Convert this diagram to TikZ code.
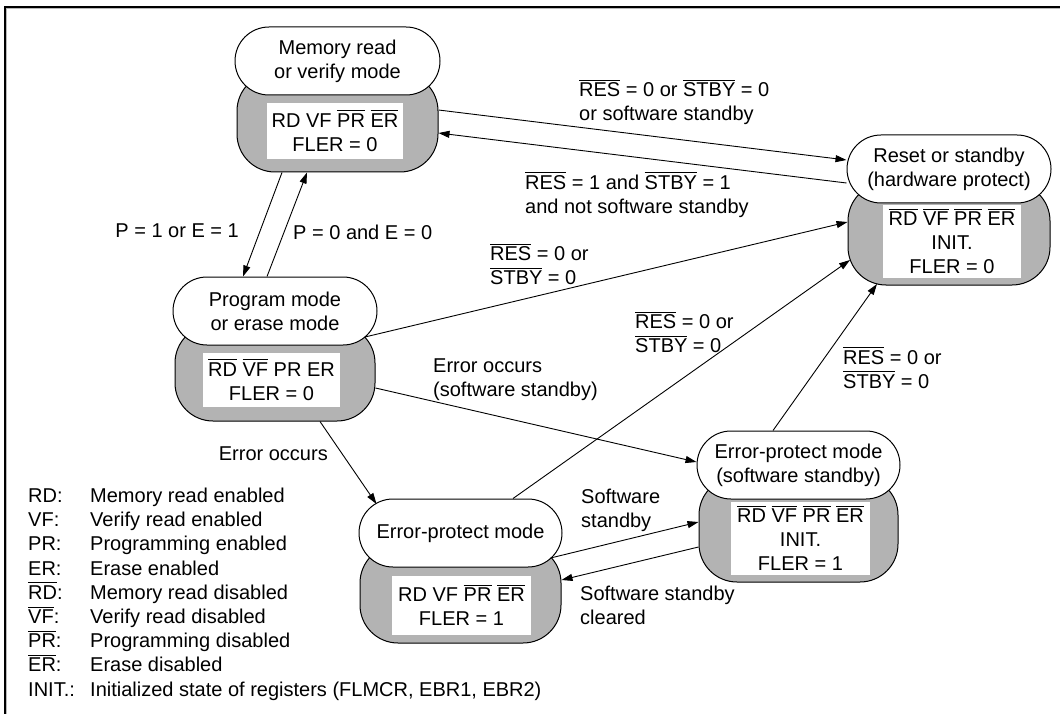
\documentclass[tikz,border=0pt]{standalone}
\usepackage{fontspec}
\setmainfont{Liberation Sans}
\usetikzlibrary{shapes.misc,arrows.meta,calc}
\definecolor{grayfill}{RGB}{179,179,179}
\newcommand\ob[1]{\vbox{\hrule height 0.9pt\kern 2.2pt\hbox{#1}}}
\begin{document}
\begin{tikzpicture}[x=1pt,y=-1pt,
  every node/.style={font=\fontsize{20}{24}\selectfont, inner sep=0pt},
  pill/.style={draw, line width=1pt, fill=white, rounded rectangle, minimum width=#1, minimum height=68pt, align=center},
  graybox/.style 2 args={draw, line width=1pt, fill=grayfill, rounded corners=38pt, minimum width=#1, minimum height=#2},
  inbox/.style 2 args={fill=white, minimum width=#1, minimum height=#2, align=center},
  conn/.style={line width=0.9pt, -{Triangle[length=11pt,width=7pt]}},
  lbl/.style={align=left}]
\useasboundingbox (0,0) rectangle (1060,714);
\fill[white] (0,0) rectangle (1060,714);
% frame
\draw[gray!55, line width=1pt] (6.8,714) -- (6.8,8.8) -- (1060,8.8);
\draw[line width=1.1pt] (5,714) -- (5,7) -- (1060,7);

% Memory read or verify mode
\node[graybox={201pt}{99pt}] (mrG) at (337.5,122.5) {};
\node[inbox={136pt}{56pt}] (mrB) at (335,131) {RD VF \ob{PR} \ob{ER}\\FLER = 0};
\node[pill=205pt] (mrW) at (337.5,61) {Memory read\\or verify mode};

% Reset or standby
\node[graybox={202pt}{102pt}] (rsG) at (949,234) {};
\node[inbox={138pt}{73pt}] (rsB) at (952,241.5) {\ob{RD} \ob{VF} \ob{PR} \ob{ER}\\INIT.\\FLER = 0};
\node[pill=204pt] (rsW) at (949,169) {Reset or standby\\(hardware protect)};

% Program mode or erase mode
\node[graybox={200pt}{96pt}] (pgG) at (275,373) {};
\node[inbox={137pt}{54pt}] (pgB) at (271.5,380) {\ob{RD} \ob{VF} PR ER\\FLER = 0};
\node[pill=204pt] (pgW) at (275,311) {Program mode\\or erase mode};

% Error-protect mode (software standby)
\node[graybox={199pt}{105pt}] (epsG) at (798.5,529.5) {};
\node[inbox={139pt}{73pt}] (epsB) at (800.5,538.5) {\ob{RD} \ob{VF} \ob{PR} \ob{ER}\\INIT.\\FLER = 1};
\node[pill=203pt] (epsW) at (798.5,465) {Error-protect mode\\(software standby)};

% Error-protect mode
\node[graybox={201pt}{98pt}] (epG) at (460.5,594) {};
\node[inbox={139pt}{59pt}] (epB) at (461.5,605.5) {RD VF \ob{PR} \ob{ER}\\FLER = 1};
\node[pill=203pt] (epW) at (460.5,533) {Error-protect mode};

% connectors
\draw[conn] ([yshift=12.5pt]mrG.east) -- ([yshift=9pt]rsW.west);
\draw[conn] ([yshift=-14pt]rsW.west) -- ([yshift=-10.5pt]mrG.east);
\draw[conn] ([xshift=-55.5pt]mrG.south) -- ([xshift=-32pt]pgW.north);
\draw[conn] ([xshift=-8pt]pgW.north) -- ([xshift=-30.5pt]mrG.south);
\draw[conn] ([xshift=90pt,yshift=-26pt]pgW.center) -- ([yshift=12pt]rsG.west);
\draw[conn] ([yshift=-15pt]pgG.east) -- ([yshift=3pt]epsW.west);
\draw[conn] ([xshift=45pt]pgG.south) -- ([xshift=-84pt,yshift=29pt]epW.center);
\draw[conn] ([xshift=52.5pt]epW.north) -- ([xshift=-99pt,yshift=-26pt]rsG.center);
\draw[conn] ([xshift=-25.5pt]epsW.north) -- ([xshift=-72pt,yshift=-50pt]rsG.center);
\draw[conn] ([xshift=90pt,yshift=-25pt]epW.center) -- ([yshift=7.5pt]epsG.west);
\draw[conn] ([yshift=-17.5pt]epsG.west) -- ([yshift=14pt]epG.east);

% labels
\node[lbl, anchor=west] (l1) at (579,102.5) {\ob{RES} = 0 or \ob{STBY} = 0\\or software standby};
\node[lbl, anchor=west] (l2) at (525,195) {\ob{RES} = 1 and \ob{STBY} = 1\\and not software standby};
\node[anchor=base east] (l3) at (239,237) {P = 1 or E = 1};
\node[anchor=base west] (l4) at (293,240) {P = 0 and E = 0};
\node[lbl, anchor=west] (l5) at (490,264.5) {\ob{RES} = 0 or\\\ob{STBY} = 0};
\node[lbl, anchor=west] (l6) at (433,379.5) {Error occurs\\(software standby)};
\node[anchor=base east] (l7) at (328,460) {Error occurs};
\node[lbl, anchor=west] (l8) at (635,332.5) {\ob{RES} = 0 or\\\ob{STBY} = 0};
\node[lbl, anchor=west] (l9) at (843,368) {\ob{RES} = 0 or\\\ob{STBY} = 0};
\node[lbl, anchor=west] (l10) at (581,510) {Software\\standby};
\node[lbl, anchor=west] (l11) at (580,605) {Software standby\\cleared};

% legend
\foreach \lab/\desc [count=\i from 0] in {
  {RD:}/{Memory read enabled},
  {VF:}/{Verify read enabled},
  {PR:}/{Programming enabled},
  {ER:}/{Erase enabled},
  {\ob{RD}:}/{Memory read disabled},
  {\ob{VF}:}/{Verify read disabled},
  {\ob{PR}:}/{Programming disabled},
  {\ob{ER}:}/{Erase disabled},
  {INIT.:}/{Initialized state of registers (FLMCR, EBR1, EBR2)}}
{
  \node[anchor=base west] (lk\i) at (28,502.5+24.2*\i) {\lab};
  \node[anchor=base west] (ld\i) at (90,502.5+24.2*\i) {\desc};
}
\end{tikzpicture}
\end{document}
